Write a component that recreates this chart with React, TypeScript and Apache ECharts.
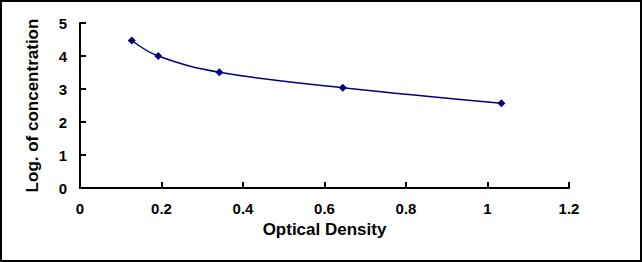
import React, { useEffect, useRef } from "react";
import * as echarts from "echarts";

const xValues = [0.127, 0.192, 0.342, 0.645, 1.034];
const yValues = [4.47, 4.0, 3.51, 3.04, 2.57];
const xTitle = "Optical Density";
const yTitle = "Log. of concentration";

export default function App() {
  const ref = useRef<HTMLDivElement>(null);
  useEffect(() => {
    if (!ref.current) return;
    const chart = echarts.init(ref.current, null, { renderer: "svg" });
    const font = "'Liberation Sans', Arial, sans-serif";
    chart.setOption({
      animation: false,
      backgroundColor: "#ffffff",
      grid: { left: 80, right: 73, top: 23, bottom: 74 },
      xAxis: {
        type: "value",
        min: 0,
        max: 1.2,
        interval: 0.2,
        name: xTitle,
        nameLocation: "middle",
        nameGap: 32,
        nameTextStyle: { fontFamily: font, fontWeight: "bold", fontSize: 17, color: "#000" },
        axisLine: { lineStyle: { color: "#000", width: 2 } },
        axisTick: { inside: true, length: 6, lineStyle: { color: "#000", width: 2 } },
        axisLabel: { margin: 13, fontFamily: font, fontWeight: "bold", fontSize: 15, color: "#000" },
        splitLine: { show: false },
      },
      yAxis: {
        type: "value",
        min: 0,
        max: 5,
        interval: 1,
        name: yTitle,
        nameLocation: "middle",
        nameGap: 39,
        nameTextStyle: { fontFamily: font, fontWeight: "bold", fontSize: 17, color: "#000" },
        axisLine: { show: true, lineStyle: { color: "#000", width: 2 } },
        axisTick: { show: true, inside: true, length: 6, lineStyle: { color: "#000", width: 2 } },
        axisLabel: { margin: 13, fontFamily: font, fontWeight: "bold", fontSize: 15, color: "#000" },
        splitLine: { show: false },
      },
      series: [
        {
          type: "line",
          data: xValues.map((x, i) => [x, yValues[i]]),
          smooth: 0.4,
          symbol: "diamond",
          symbolSize: 8,
          itemStyle: { color: "#000080" },
          lineStyle: { color: "#000080", width: 1.5 },
        },
      ],
    });
    return () => chart.dispose();
  }, []);
  return (
    <div style={{ position: "fixed", left: 0, top: 0, width: 642, height: 262, background: "#fff" }}>
      <div ref={ref} style={{ position: "absolute", left: 0, top: 0, width: 642, height: 262 }} />
      <div
        style={{
          position: "absolute",
          left: 0,
          top: 0,
          width: 642,
          height: 262,
          border: "2px solid #000",
          boxSizing: "border-box",
          pointerEvents: "none",
        }}
      />
    </div>
  );
}
